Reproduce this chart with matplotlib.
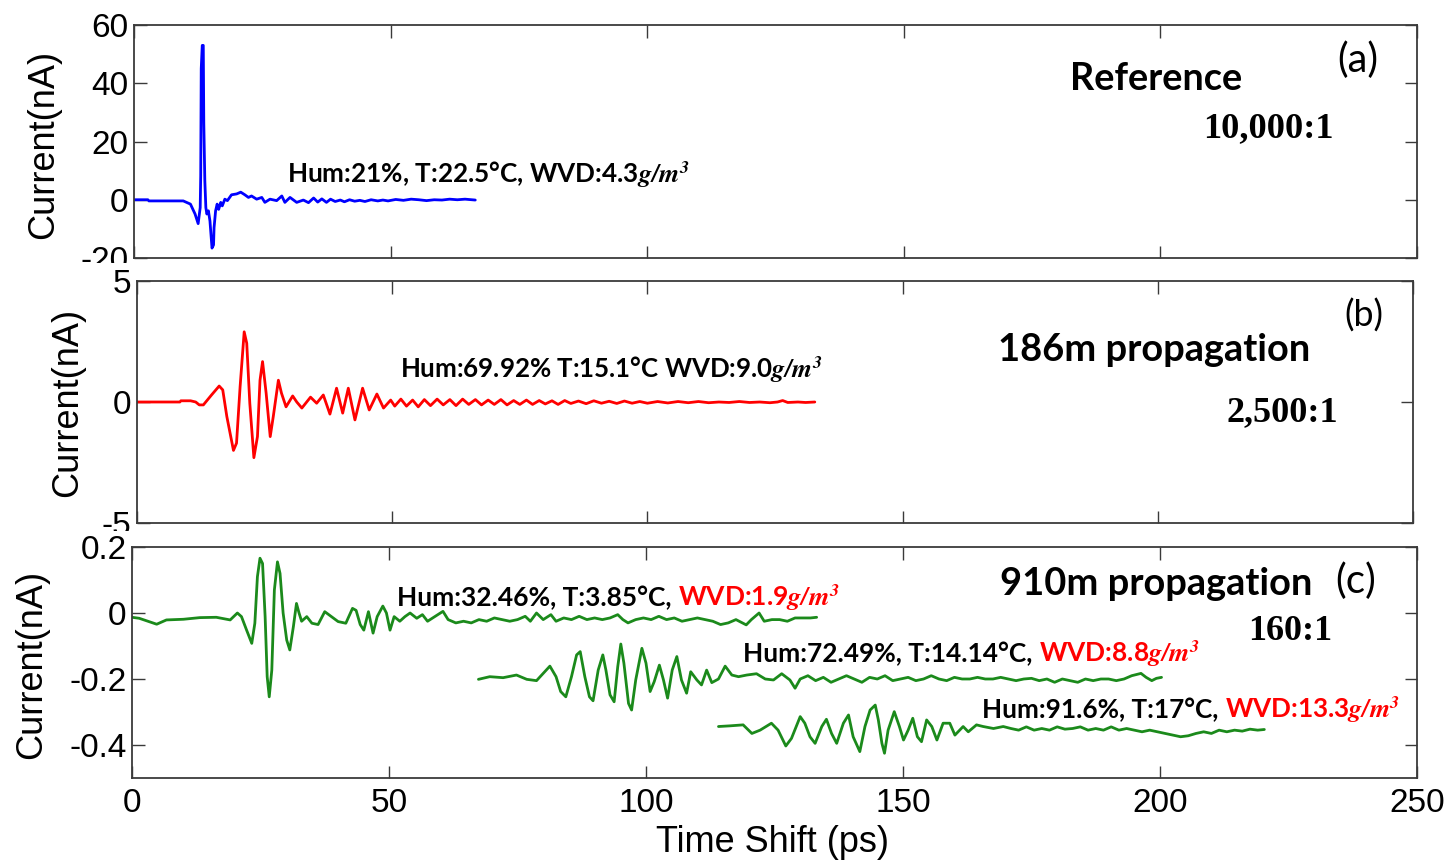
import matplotlib
matplotlib.use("Agg")
import matplotlib.pyplot as plt
from matplotlib.patches import Rectangle
from matplotlib.font_manager import FontProperties

plt.rcParams['font.family'] = ['Liberation Sans', 'DejaVu Sans']
plt.rcParams['axes.unicode_minus'] = False
plt.rcParams['mathtext.fontset'] = 'stix'

# ---------------- data (time shift in ps, current in nA) ----------------
ref_pulse = [(0.0, 0.0), (2.7, 0.0), (2.9, -0.4), (9.6, -0.4), (11.0, -1.5), (11.9, -4.9),
             (12.5, -8.2), (12.9, -2.7), (13.0, 8.3), (13.1, 45.0), (13.3, 53.0), (13.5, 53.0),
             (13.6, 26.4), (13.8, 6.6), (14.0, -2.7), (14.2, -4.9), (14.5, -3.8), (14.8, -7.3),
             (15.2, -16.6), (15.5, -15.5), (15.6, -9.6), (15.9, -3.8), (16.2, -1.5), (16.5, -3.3),
             (16.9, -0.9), (17.2, -2.1), (17.7, 0.2), (18.2, -0.3), (19.0, 1.7), (20.0, 2.0),
             (20.8, 2.6), (21.6, 1.7), (22.3, 0.8), (22.9, 1.3), (23.9, 0.2), (24.9, 0.8),
             (25.5, -0.9), (26.5, 0.2), (27.8, -0.3), (28.8, 1.3), (29.4, -0.9), (30.4, 0.8),
             (31.7, -0.9), (33.0, -0.1), (34.0, -1.0), (35.0, 0.6), (35.8, -0.8), (36.6, 0.3),
             (37.5, -0.9), (38.3, 0.2), (39.2, -0.6), (40.2, -0.1), (41.0, -0.7), (42.0, 0.0),
             (43.0, -0.5), (44.0, -0.2), (45.0, -0.6), (46.2, 0.0), (47.5, -0.4), (48.5, -0.1),
             (49.5, -0.4), (51.0, 0.1), (52.5, -0.2), (54.0, 0.2), (55.5, 0.0), (57.0, -0.3),
             (58.5, 0.0), (60.0, -0.1), (61.5, 0.2), (63.0, 0.0), (64.5, 0.2), (66.5, -0.1)]

pulse_186m = [(0.0, 0.0), (8.4, 0.0), (8.6, 0.05), (10.5, 0.05), (11.5, 0.0), (12.2, -0.12),
              (13.0, -0.12), (14.6, 0.29), (16.1, 0.66), (16.8, 0.5), (17.6, -0.6), (18.9, -2.0),
              (19.5, -1.7), (20.2, 0.63), (21.0, 2.9), (21.5, 2.43), (22.1, -0.05), (22.9, -2.3),
              (23.6, -1.43), (24.1, 0.9), (24.6, 1.67), (25.3, 0.37), (26.1, -1.43), (26.7, -0.6),
              (27.7, 0.9), (28.3, 0.37), (29.2, -0.2), (30.5, 0.25), (31.3, 0.0), (32.3, -0.25),
              (34.0, 0.2), (35.2, -0.05), (36.5, 0.29), (37.8, -0.5), (39.1, 0.57), (40.3, -0.46),
              (41.4, 0.57), (42.7, -0.74), (44.2, 0.57), (45.5, -0.33), (47.0, 0.33), (48.3, -0.25),
              (49.7, 0.08), (50.5, -0.17), (51.7, 0.12), (52.8, -0.17), (54.0, 0.08), (55.1, -0.2),
              (56.3, 0.1), (57.5, -0.15), (58.8, 0.12), (60.0, -0.12), (61.3, 0.1), (62.5, -0.15),
              (63.8, 0.12), (65.0, -0.1), (66.3, 0.1), (67.5, -0.12), (68.8, 0.08), (70.0, -0.1),
              (71.3, 0.1), (72.5, -0.12), (73.8, 0.06), (75.0, -0.1), (76.3, 0.08), (77.5, -0.1),
              (78.8, 0.06), (80.0, -0.08), (81.3, 0.05), (82.5, -0.1), (83.8, 0.06), (85.0, -0.06),
              (86.5, 0.04), (88.0, -0.07), (89.5, 0.05), (91.0, -0.05), (92.5, 0.03), (94.0, -0.06),
              (95.5, 0.04), (97.0, -0.05), (98.5, 0.02), (100.0, -0.05), (102.0, 0.02), (104.0, -0.04),
              (106.0, 0.02), (108.0, -0.03), (110.0, 0.02), (112.0, -0.03), (114.0, 0.0), (116.0, -0.02),
              (118.0, 0.02), (120.0, -0.02), (122.0, 0.0), (124.0, -0.03), (125.5, 0.0), (126.5, 0.06),
              (127.5, -0.02), (129.5, 0.0), (131.0, -0.02), (132.8, 0.0)]

pulse_910m_dry = [(0.0, -0.013), (1.4, -0.016), (4.8, -0.034), (6.7, -0.021), (10.0, -0.019),
                  (13.2, -0.014), (16.4, -0.013), (19.1, -0.021), (20.5, 0.0), (21.3, -0.011),
                  (22.3, -0.052), (23.3, -0.092), (23.9, -0.031), (24.4, 0.11), (24.9, 0.166),
                  (25.4, 0.15), (25.9, -0.011), (26.3, -0.193), (26.7, -0.254), (27.2, -0.173),
                  (27.7, 0.07), (28.3, 0.155), (28.8, 0.12), (29.4, 0.0), (30.1, -0.082),
                  (30.7, -0.112), (31.4, -0.041), (32.0, 0.029), (32.5, 0.0), (33.0, -0.025),
                  (34.0, -0.011), (35.0, -0.031), (36.2, -0.035), (37.5, 0.004), (38.8, -0.011),
                  (40.1, -0.026), (41.6, -0.031), (42.9, 0.014), (43.6, 0.008), (44.4, -0.035),
                  (45.1, -0.052), (46.0, 0.004), (46.9, -0.061), (47.7, -0.011), (48.8, 0.021),
                  (49.5, 0.0), (50.2, -0.052), (51.0, -0.011), (52.1, -0.025), (53.1, -0.011),
                  (54.1, 0.0), (55.4, -0.016), (56.5, -0.005), (57.5, -0.025), (59.0, -0.01),
                  (60.5, 0.005), (61.5, -0.02), (63.0, -0.03), (64.5, -0.025), (66.0, -0.03),
                  (67.5, -0.02), (69.0, -0.025), (70.5, -0.015), (72.0, -0.02), (73.5, -0.025),
                  (75.0, -0.02), (76.5, -0.01), (77.5, -0.025), (78.7, 0.0), (80.0, -0.02),
                  (81.5, -0.005), (82.5, -0.025), (84.0, -0.015), (85.5, -0.02), (87.0, -0.01),
                  (88.5, -0.02), (90.0, -0.015), (91.5, -0.02), (93.0, -0.015), (94.5, -0.005),
                  (95.5, -0.02), (96.5, -0.03), (98.0, -0.02), (99.5, -0.015), (101.0, -0.02),
                  (102.5, -0.01), (104.0, -0.02), (105.5, -0.015), (107.0, -0.025), (108.5, -0.02),
                  (110.0, -0.015), (111.5, -0.02), (113.0, -0.025), (114.5, -0.035), (116.0, -0.03),
                  (117.5, -0.02), (119.5, -0.036), (120.5, -0.02), (122.0, 0.0), (123.0, -0.025),
                  (124.5, -0.02), (126.0, -0.02), (127.5, -0.025), (129.0, -0.015), (130.5, -0.015),
                  (132.0, -0.015), (133.2, -0.013)]

pulse_910m_mid = [(67.4, -0.201), (69.6, -0.193), (72.2, -0.196), (74.8, -0.188), (76.8, -0.201),
                  (78.7, -0.205), (80.0, -0.183), (81.3, -0.161), (82.5, -0.193), (83.4, -0.238),
                  (84.4, -0.254), (85.5, -0.193), (86.5, -0.127), (87.2, -0.117), (88.1, -0.193),
                  (89.0, -0.254), (89.7, -0.266), (90.7, -0.173), (91.6, -0.127), (92.2, -0.173),
                  (93.0, -0.248), (93.8, -0.269), (94.5, -0.163), (95.1, -0.094), (95.7, -0.152),
                  (96.6, -0.274), (97.2, -0.294), (98.0, -0.203), (99.2, -0.107), (100.0, -0.152),
                  (100.8, -0.238), (101.6, -0.208), (102.6, -0.158), (103.4, -0.203), (104.2, -0.258),
                  (105.1, -0.173), (106.0, -0.132), (106.9, -0.203), (107.9, -0.243), (108.7, -0.178),
                  (109.9, -0.203), (110.8, -0.218), (111.8, -0.173), (112.8, -0.211), (114.1, -0.2),
                  (115.4, -0.161), (116.7, -0.188), (118.0, -0.193), (119.6, -0.188), (121.5, -0.184),
                  (123.2, -0.2), (124.8, -0.203), (126.4, -0.184), (128.0, -0.203), (129.0, -0.228),
                  (130.0, -0.2), (131.5, -0.19), (133.0, -0.205), (134.5, -0.195), (136.0, -0.21),
                  (137.5, -0.2), (139.0, -0.19), (140.5, -0.2), (142.0, -0.21), (143.5, -0.195),
                  (145.0, -0.2), (146.5, -0.19), (148.0, -0.205), (149.5, -0.2), (151.0, -0.195),
                  (152.5, -0.205), (154.0, -0.2), (155.5, -0.19), (157.0, -0.2), (158.5, -0.205),
                  (160.0, -0.195), (161.5, -0.2), (163.0, -0.2), (164.5, -0.195), (166.0, -0.2),
                  (167.5, -0.2), (169.0, -0.195), (170.5, -0.2), (172.0, -0.205), (173.5, -0.2),
                  (175.0, -0.198), (176.5, -0.205), (178.0, -0.2), (179.5, -0.21), (181.0, -0.2),
                  (182.5, -0.205), (184.0, -0.21), (185.5, -0.2), (187.0, -0.205), (188.5, -0.2),
                  (190.0, -0.2), (191.5, -0.205), (193.0, -0.2), (194.5, -0.19), (196.3, -0.183),
                  (197.3, -0.195), (198.4, -0.205), (199.3, -0.198), (200.3, -0.195)]

pulse_910m_wet = [(114.1, -0.344), (116.3, -0.342), (118.9, -0.339), (120.6, -0.365), (122.2, -0.355),
                  (124.4, -0.334), (125.7, -0.355), (127.2, -0.403), (128.3, -0.38), (130.0, -0.314),
                  (130.9, -0.334), (131.9, -0.375), (132.9, -0.395), (134.2, -0.344), (135.1, -0.322),
                  (136.1, -0.365), (137.1, -0.395), (138.4, -0.334), (139.4, -0.309), (140.3, -0.375),
                  (141.6, -0.42), (142.6, -0.344), (143.6, -0.294), (144.6, -0.279), (145.2, -0.324),
                  (145.9, -0.395), (146.4, -0.425), (147.1, -0.355), (148.3, -0.299), (149.3, -0.344),
                  (150.1, -0.385), (151.0, -0.355), (151.9, -0.319), (152.8, -0.375), (153.6, -0.39),
                  (154.6, -0.324), (155.6, -0.344), (156.6, -0.385), (157.8, -0.334), (159.1, -0.334),
                  (160.1, -0.37), (161.7, -0.344), (162.7, -0.36), (164.3, -0.339), (165.6, -0.344),
                  (167.6, -0.35), (169.5, -0.344), (171.0, -0.35), (172.5, -0.355), (174.0, -0.345),
                  (175.5, -0.355), (177.0, -0.35), (178.5, -0.355), (180.0, -0.345), (181.5, -0.352),
                  (183.0, -0.35), (184.5, -0.345), (186.0, -0.355), (187.5, -0.35), (189.0, -0.355),
                  (190.5, -0.345), (192.0, -0.355), (193.5, -0.35), (195.0, -0.355), (196.5, -0.36),
                  (198.0, -0.355), (199.5, -0.36), (201.0, -0.365), (202.5, -0.37), (204.0, -0.375),
                  (205.5, -0.372), (207.0, -0.365), (208.5, -0.36), (210.0, -0.365), (211.5, -0.355),
                  (213.0, -0.36), (214.5, -0.355), (216.0, -0.358), (217.5, -0.352), (219.0, -0.355),
                  (220.3, -0.353)]

x_ticks = [0, 50, 100, 150, 200, 250]
yticks_a = [-20, 0, 20, 40, 60]
yticks_b = [-5, 0, 5]
yticks_c = [-0.4, -0.2, 0, 0.2]
yticklabels_c = ['-0.4', '-0.2', '0', '0.2']

# ---------------- figure ----------------
W, H = 1451, 861
fig = plt.figure(figsize=(W / 100, H / 100), dpi=100)
renderer = fig.canvas.get_renderer()

SPINE = '#3a3a3a'
TICKFS = 24


def add_ax(l, t, r, b, z):
    ax = fig.add_axes([l / W, 1 - b / H, (r - l) / W, (b - t) / H], zorder=z)
    ax.set_facecolor('white')
    for s in ax.spines.values():
        s.set_color(SPINE)
        s.set_linewidth(1.3)
    ax.tick_params(direction='in', length=9, width=1.0, color=SPINE, top=True, right=True,
                   labelsize=TICKFS, pad=4)
    ax.tick_params(axis='x', pad=7)
    ax.set_xlim(0, 250)
    ax.set_xticks(x_ticks)
    return ax


def unzip(pairs):
    return [p[0] for p in pairs], [p[1] for p in pairs]


ax_a = add_ax(134, 25, 1417, 258, 0)
ax_b = add_ax(137, 281, 1413, 523, 1)
ax_c = add_ax(132, 547, 1417, 778, 2)

LW = 2.0
line_kw = dict(lw=LW, solid_joinstyle='round', solid_capstyle='round')
t, i = unzip(ref_pulse)
ax_a.plot(t, i, color='#0000ff', **line_kw)
ax_a.set_ylim(-20, 60)
ax_a.set_yticks(yticks_a)
ax_a.set_yticklabels([str(v) for v in yticks_a])
ax_a.tick_params(axis='x', labelbottom=False)

t, i = unzip(pulse_186m)
ax_b.plot(t, i, color='#ff0000', **line_kw)
ax_b.set_ylim(-5, 5)
ax_b.set_yticks(yticks_b)
ax_b.set_yticklabels([str(v) for v in yticks_b])
ax_b.tick_params(axis='x', labelbottom=False)

GREEN = '#1b8a1b'
for series in (pulse_910m_dry, pulse_910m_mid, pulse_910m_wet):
    t, i = unzip(series)
    ax_c.plot(t, i, color=GREEN, **line_kw)
ax_c.set_ylim(-0.5, 0.2)
ax_c.set_yticks(yticks_c)
ax_c.set_yticklabels(yticklabels_c)
ax_c.set_xticklabels([str(v) for v in x_ticks])

# white strips mimicking the overlapped composite panels
fig.add_artist(Rectangle((0, 1 - 280 / H), 132 / W, 17 / H, transform=fig.transFigure,
                         facecolor='white', edgecolor='none', zorder=0.5))
fig.add_artist(Rectangle((0, 1 - 546 / H), 130 / W, 15 / H, transform=fig.transFigure,
                         facecolor='white', edgecolor='none', zorder=1.5))

# axis labels
LABFS = 26
for cx, cy in ((44, 144), (68, 402), (32, 664)):
    fig.text(cx / W, 1 - cy / H, 'Current(nA)', rotation=90, ha='center', va='center',
             fontsize=LABFS, zorder=3)
fig.text(773 / W, 1 - 843 / H, 'Time Shift (ps)', ha='center', va='center', fontsize=LABFS, zorder=3)


# ---------------- annotations ----------------
def math_ok(s):
    try:
        from matplotlib.mathtext import MathTextParser
        MathTextParser('agg').parse(s, dpi=100, prop=FontProperties())
        return True
    except Exception:
        return False


GM = r'$\mathbfit{g/m^3}$' if math_ok(r'$\mathbfit{g/m^3}$') else r'$\mathit{g/m^3}$'
SANS = ['Lato', 'DejaVu Sans']
SERIF = ['Liberation Serif', 'DejaVu Serif']


def fit_text(s, x_px, base_px, width_px, fs=20, **kw):
    t = fig.text(x_px / W, 1 - base_px / H, s, ha='left', va='baseline', fontsize=fs, zorder=4, **kw)
    for _ in range(3):
        w = t.get_window_extent(renderer).width
        t.set_fontsize(t.get_fontsize() * width_px / w)
    return t


def two_part(s1, s2, x_px, base_px, total_px, fs=16, color2='#ff0000'):
    t1 = fig.text(x_px / W, 1 - base_px / H, s1, ha='left', va='baseline', fontsize=fs,
                  family=SANS, weight='bold', zorder=4)
    t2 = fig.text(0, 1 - base_px / H, s2, ha='left', va='baseline', fontsize=fs,
                  family=SANS, weight='bold', color=color2, zorder=4)
    for _ in range(4):
        e1 = t1.get_window_extent(renderer)
        gap = 0.25 * t1.get_fontsize() * 100 / 72
        t2.set_x((e1.x1 + gap) / W)
        e2 = t2.get_window_extent(renderer)
        f = total_px / (e2.x1 - e1.x0)
        t1.set_fontsize(t1.get_fontsize() * f)
        t2.set_fontsize(t2.get_fontsize() * f)
    e1 = t1.get_window_extent(renderer)
    t2.set_x((e1.x1 + 0.25 * t1.get_fontsize() * 100 / 72) / W)
    return t1, t2


fit_text('Hum:21%, T:22.5°C, WVD:4.3' + GM, 287, 183, 403, family=SANS, weight='bold')
fit_text('Hum:69.92% T:15.1°C WVD:9.0' + GM, 400, 378, 424, family=SANS, weight='bold')
two_part('Hum:32.46%, T:3.85°C,', 'WVD:1.9' + GM, 397, 606, 443)
two_part('Hum:72.49%, T:14.14°C,', 'WVD:8.8' + GM, 743, 662, 457)
two_part('Hum:91.6%, T:17°C,', 'WVD:13.3' + GM, 982, 718, 418)

fit_text('Reference', 1070, 90, 172, family=SANS, weight='bold')
fit_text('10,000:1', 1203, 137, 130, family=SERIF, weight='bold')
fit_text('(a)', 1337, 72, 41, family=SANS)
fit_text('186m propagation', 998, 361, 312, family=SANS, weight='bold')
fit_text('2,500:1', 1226, 421, 112, family=SERIF, weight='bold')
fit_text('(b)', 1344, 327, 39, family=SANS)
fit_text('910m propagation', 1000, 595, 313, family=SANS, weight='bold')
fit_text('(c)', 1335, 593, 41, family=SANS)
fit_text('160:1', 1248, 640, 84, family=SERIF, weight='bold')

fig.savefig('out.png', dpi=100)
